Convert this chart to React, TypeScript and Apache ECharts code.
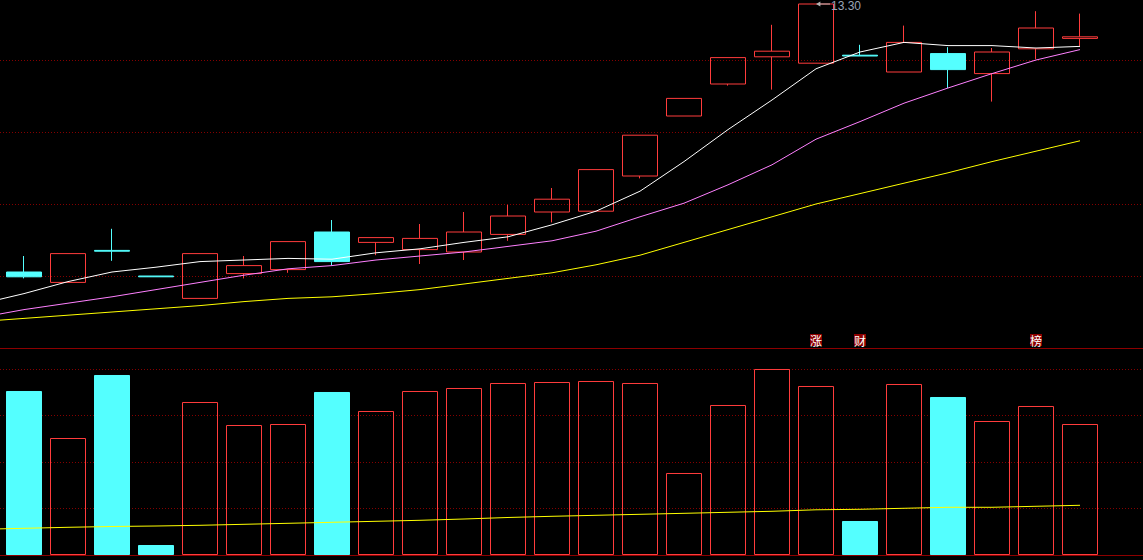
import React, { useEffect, useRef } from 'react';
import * as echarts from 'echarts';

// categories: one leading slot (history before the window), 25 trading days, one trailing empty slot
const categories = ['p', '1', '2', '3', '4', '5', '6', '7', '8', '9', '10', '11', '12', '13', '14', '15', '16', '17', '18', '19', '20', '21', '22', '23', '24', '25', 'n'];

// [open, close, lowest, highest]
const candles: number[][] = [
  [9.95, 9.89, 9.87, 10.15],
  [9.82, 10.18, 9.82, 10.18],
  [10.22, 10.21, 10.09, 10.49],
  [9.9, 9.89, 9.89, 9.9],
  [9.62, 10.18, 9.62, 10.18],
  [9.93, 10.03, 9.87, 10.15],
  [9.98, 10.33, 9.94, 10.33],
  [10.45, 10.08, 10.03, 10.6],
  [10.32, 10.38, 10.16, 10.38],
  [10.23, 10.37, 10.05, 10.55],
  [10.2, 10.45, 10.1, 10.7],
  [10.42, 10.65, 10.34, 10.79],
  [10.7, 10.86, 10.57, 11.0],
  [10.71, 11.23, 10.71, 11.23],
  [11.15, 11.66, 11.12, 11.66],
  [11.9, 12.12, 11.9, 12.12],
  [12.3, 12.63, 12.28, 12.63],
  [12.64, 12.71, 12.23, 13.04],
  [12.56, 13.3, 12.56, 13.3],
  [12.66, 12.65, 12.65, 12.79],
  [12.45, 12.82, 12.45, 13.03],
  [12.68, 12.48, 12.25, 12.76],
  [12.43, 12.7, 12.08, 12.75],
  [12.74, 13.0, 12.61, 13.21],
  [12.87, 12.89, 12.77, 13.18],
];

// moving averages (first value = the day before the window)
const ma5 = [9.55, 9.68, 9.83, 9.95, 10.01, 10.08, 10.1, 10.12, 10.11, 10.19, 10.24, 10.32, 10.39, 10.54, 10.71, 10.96, 11.33, 11.73, 12.1, 12.49, 12.7, 12.82, 12.78, 12.78, 12.75, 12.77];
const ma10 = [9.38, 9.48, 9.56, 9.64, 9.73, 9.82, 9.91, 9.99, 10.03, 10.1, 10.15, 10.2, 10.27, 10.34, 10.46, 10.64, 10.81, 11.04, 11.29, 11.61, 11.83, 12.06, 12.25, 12.43, 12.6, 12.73];
const ma20 = [9.33, 9.37, 9.41, 9.45, 9.49, 9.53, 9.58, 9.62, 9.64, 9.68, 9.73, 9.8, 9.87, 9.94, 10.04, 10.16, 10.32, 10.48, 10.64, 10.8, 10.93, 11.06, 11.19, 11.33, 11.46, 11.59];

const volumes = [70540, 50320, 77420, 4300, 65810, 55910, 56340, 70110, 61940, 70540, 71830, 73980, 74410, 74840, 73980, 35270, 64520, 80000, 72690, 14620, 73550, 67960, 57630, 64090, 56340];
const volMa = [11050, 11480, 11910, 12260, 12470, 12770, 13200, 13630, 14060, 14490, 14920, 15480, 16130, 16640, 17070, 17500, 17930, 18370, 18800, 19440, 19660, 20090, 20520, 20520, 20950, 21380];

// event markers per trading day
const eventLabels = ['', '', '', '', '', '', '', '', '', '', '', '', '', '', '', '', '', '', '涨', '财', '', '', '', '榜', ''];

const RED = '#ff3c3c';
const CYAN = '#54ffff';
const GRID = '#840000';
const SEP = '#8c0000';

export default function App() {
  const ref = useRef<HTMLDivElement>(null);
  useEffect(() => {
    document.body.style.margin = '0';
    document.body.style.background = '#000';
    const chart = echarts.init(ref.current!, null, { renderer: 'svg' });
    const pad = ['-', '-', '-', '-'];
    const candleData: any[] = [pad, ...candles, pad];
    const volData: any[] = [
      '-',
      ...volumes.map((v, i) => {
        const down = candles[i][0] > candles[i][1];
        return {
          value: v,
          itemStyle: down
            ? { color: CYAN, borderColor: CYAN, borderWidth: 1 }
            : { color: 'transparent', borderColor: RED, borderWidth: 1 },
        };
      }),
      '-',
    ];
    const hidden = { show: false };
    const option: any = {
      animation: false,
      backgroundColor: '#000',
      grid: [
        { left: 0, top: 0, width: 1188, height: 360, outerBoundsMode: 'none', containLabel: false },
        { left: 0, top: 360, width: 1188, height: 207, outerBoundsMode: 'none', containLabel: false },
      ],
      xAxis: [
        {
          type: 'category',
          gridIndex: 0,
          data: categories,
          boundaryGap: true,
          axisLine: { show: true, lineStyle: { color: SEP, width: 1 } },
          axisTick: hidden,
          splitLine: hidden,
          axisLabel: {
            show: true,
            inside: true,
            interval: 0,
            margin: 2,
            formatter: (_v: string, i: number) => {
              const t = eventLabels[i - 1];
              return t ? `{e|${t}}` : '';
            },
            rich: {
              e: {
                color: '#ffffff',
                backgroundColor: '#8c0000',
                fontSize: 12,
                fontFamily: 'Noto Sans CJK SC',
                lineHeight: 12,
                height: 12,
                width: 12,
                align: 'center',
              },
            },
          },
        },
        {
          type: 'category',
          gridIndex: 1,
          data: categories,
          boundaryGap: true,
          axisLine: { show: true, lineStyle: { color: SEP, width: 1 } },
          axisTick: hidden,
          axisLabel: hidden,
          splitLine: hidden,
        },
      ],
      yAxis: [
        {
          type: 'value',
          gridIndex: 0,
          min: 9.0,
          max: 13.5,
          interval: 0.9,
          axisLine: hidden,
          axisTick: hidden,
          axisLabel: hidden,
          splitLine: { show: true, lineStyle: { color: GRID, type: [1, 2], width: 1 } },
        },
        {
          type: 'value',
          gridIndex: 1,
          min: 0,
          max: 89032,
          interval: 20000,
          axisLine: hidden,
          axisTick: hidden,
          axisLabel: hidden,
          splitLine: { show: true, lineStyle: { color: GRID, type: [1, 2], width: 1 } },
        },
      ],
      series: [
        {
          type: 'candlestick',
          xAxisIndex: 0,
          yAxisIndex: 0,
          data: candleData,
          barWidth: 36,
          barMaxWidth: 36,
          z: 2,
          silent: true,
          itemStyle: {
            color: 'transparent',
            color0: CYAN,
            borderColor: RED,
            borderColor0: CYAN,
            borderWidth: 1,
          },
          markPoint: {
            silent: true,
            symbol: 'path://M0,3L5,0L5,2.5L16,2.5L16,3.5L5,3.5L5,6Z',
            symbolSize: [14, 5],
            symbolOffset: [7, 0],
            itemStyle: { color: '#b4b4b4' },
            label: {
              show: true,
              position: 'right',
              distance: 1,
              offset: [0, 2],
              color: '#9aa4b6',
              fontSize: 12,
              lineHeight: 12,
              fontFamily: 'Liberation Sans',
              formatter: (p: any) => Number(p.value).toFixed(2),
            },
            data: [{ type: 'max', valueDim: 'highest' }],
          },
        },
        {
          type: 'line', xAxisIndex: 0, yAxisIndex: 0, data: ma5, symbol: 'none', z: 3, silent: true,
          lineStyle: { color: '#ffffff', width: 1 },
        },
        {
          type: 'line', xAxisIndex: 0, yAxisIndex: 0, data: ma10, symbol: 'none', z: 3, silent: true,
          lineStyle: { color: '#ff80ff', width: 1 },
        },
        {
          type: 'line', xAxisIndex: 0, yAxisIndex: 0, data: ma20, symbol: 'none', z: 3, silent: true,
          lineStyle: { color: '#ffff00', width: 1 },
        },
        {
          type: 'bar', xAxisIndex: 1, yAxisIndex: 1, data: volData, barWidth: 36, z: 2, silent: true,
        },
        {
          type: 'line', xAxisIndex: 1, yAxisIndex: 1, data: volMa, symbol: 'none', z: 3, silent: true,
          lineStyle: { color: '#ffff00', width: 1 },
        },
      ],
    };
    chart.setOption(option);
    return () => chart.dispose();
  }, []);
  return (
    <div style={{ position: 'fixed', left: 0, top: 0, width: 1143, height: 560, overflow: 'hidden', background: '#000' }}>
      <div
        ref={ref}
        style={{ position: 'absolute', left: -42.5, top: -12, width: 1188, height: 572 }}
      />
    </div>
  );
}
